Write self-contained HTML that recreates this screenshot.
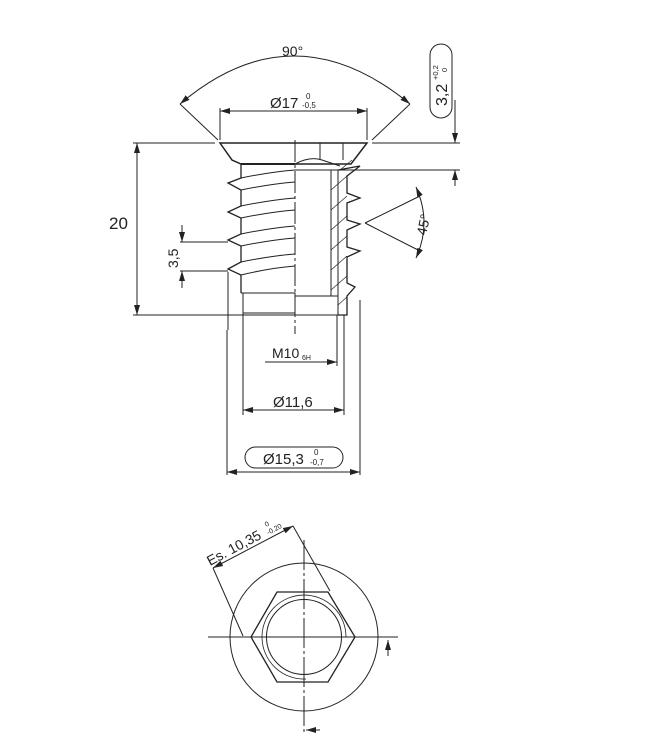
<!DOCTYPE html>
<html><head><meta charset="utf-8"><style>
html,body{margin:0;padding:0;background:#fff}
svg{display:block}
text{font-family:"Liberation Sans",sans-serif;fill:#222}
</style></head><body>
<svg width="651" height="743" viewBox="0 0 651 743" xmlns="http://www.w3.org/2000/svg">
<defs>
<marker id="a" viewBox="0 0 10 6" refX="10" refY="3" markerWidth="10" markerHeight="6" orient="auto-start-reverse" markerUnits="userSpaceOnUse"><path d="M0,0L10,3L0,6z" fill="#222"/></marker>
</defs>
<g stroke="#222" fill="none" stroke-width="1">
<path d="M180,104 Q293,8 410,104" marker-start="url(#a)" marker-end="url(#a)"/>
<line x1="180" y1="104" x2="218" y2="140"/>
<line x1="410" y1="104" x2="372" y2="140"/>
<line x1="220" y1="108" x2="220" y2="140"/>
<line x1="367" y1="108" x2="367" y2="140"/>
<line x1="220" y1="111" x2="367" y2="111" marker-start="url(#a)" marker-end="url(#a)"/>
<line x1="133" y1="143" x2="215" y2="143"/>
<line x1="133" y1="315" x2="243" y2="315"/>
<line x1="137" y1="143" x2="137" y2="315" marker-start="url(#a)" marker-end="url(#a)"/>
<line x1="372" y1="143" x2="460" y2="143"/>
<line x1="350" y1="170" x2="460" y2="170"/>
<line x1="455" y1="100" x2="455" y2="143" marker-end="url(#a)"/>
<line x1="455" y1="186" x2="455" y2="170" marker-end="url(#a)"/>
<rect x="430" y="44" width="22" height="74" rx="11"/>
<path d="M220,143 L367,143 L351,164 L241,164 L232,160 Z" stroke-width="1.5"/>
<line x1="241" y1="164" x2="295" y2="164" stroke-width="2"/>
<path d="M295,164 Q310,156 322,160 L340,166" />
<line x1="320" y1="143" x2="320" y2="159"/>
<line x1="343" y1="143" x2="343" y2="160"/>
<line x1="295" y1="170" x2="350" y2="170"/>
<path d="M241,164 L241,178 L228,183 L241,190 L241,206 L228,212 L241,218 L241,234 L228,240 L241,246 L241,262 L228,269 L241,275 L241,293" stroke-width="1.3"/>
<path d="M241,178 Q270,172 295,170 M241,190 Q270,184 295,182"/>
<path d="M241,206 Q270,200 295,198 M241,218 Q270,212 295,210"/>
<path d="M241,234 Q270,228 295,226 M241,246 Q270,240 295,238"/>
<path d="M241,262 Q270,256 295,254 M241,275 Q270,268 295,266"/>
<line x1="228" y1="272" x2="228" y2="330"/>
<line x1="241" y1="293" x2="295" y2="293"/>
<rect x="243" y="293" width="52" height="22"/>
<line x1="243" y1="313" x2="295" y2="313"/>
<path d="M295,296 L338,296 L338,315 L295,315"/>
<line x1="331" y1="170" x2="331" y2="296"/>
<line x1="338" y1="170" x2="338" y2="296"/>
<path d="M338,170 L360,166 L347,176 L347,193 L360,198 L347,203 L347,220 L360,224 L347,230 L347,247 L360,251 L347,257 L347,283 L355,287 L347,296 L347,315 L338,315" stroke-width="1.3"/>
<g stroke-width="0.7">
<line x1="331" y1="190" x2="347" y2="176"/><line x1="331" y1="210" x2="347" y2="196"/>
<line x1="331" y1="230" x2="347" y2="216"/><line x1="331" y1="250" x2="347" y2="236"/>
<line x1="331" y1="270" x2="347" y2="256"/><line x1="331" y1="290" x2="347" y2="276"/>
<line x1="338" y1="305" x2="347" y2="297"/><line x1="340" y1="170" x2="352" y2="160"/>
</g>
<line x1="365" y1="223" x2="420" y2="196"/>
<line x1="365" y1="223" x2="420" y2="251"/>
<path d="M416,187 Q432,223 416,258" marker-start="url(#a)" marker-end="url(#a)"/>
<line x1="180" y1="242" x2="228" y2="242"/>
<line x1="180" y1="271" x2="228" y2="271"/>
<line x1="182" y1="225" x2="182" y2="242" marker-end="url(#a)"/>
<line x1="182" y1="288" x2="182" y2="271" marker-end="url(#a)"/>
<line x1="295" y1="140" x2="295" y2="334" stroke-dasharray="22,3,3,3"/>
<line x1="243" y1="315" x2="243" y2="415"/>
<line x1="344" y1="315" x2="344" y2="415"/>
<line x1="360" y1="300" x2="360" y2="475"/>
<line x1="227" y1="330" x2="227" y2="475"/>
<line x1="337" y1="315" x2="337" y2="366"/>
<line x1="265" y1="362" x2="337" y2="362" marker-end="url(#a)"/>
<line x1="243" y1="410" x2="344" y2="410" marker-start="url(#a)" marker-end="url(#a)"/>
<line x1="227" y1="472" x2="360" y2="472" marker-start="url(#a)" marker-end="url(#a)"/>
<rect x="245" y="447" width="98" height="21" rx="10.5"/>
<circle cx="304" cy="637" r="74"/>
<polygon points="251,637 277,592 328,592 355,637 328,682 277,682" stroke-width="1.3"/>
<circle cx="304" cy="637" r="37.5"/>
<path d="M346,637 A42,42 0 1 0 306,679" stroke-width="0.8"/>
<line x1="208" y1="637" x2="398" y2="637"/>
<line x1="304" y1="540" x2="304" y2="735" stroke-dasharray="30,3,3,3"/>
<line x1="388" y1="656" x2="388" y2="640" marker-end="url(#a)"/>
<line x1="320" y1="730" x2="306" y2="730" marker-end="url(#a)"/>
<line x1="243" y1="636" x2="213" y2="568"/>
<line x1="330" y1="591" x2="293" y2="526"/>
<line x1="213" y1="568" x2="293" y2="526" marker-start="url(#a)" marker-end="url(#a)"/>
</g>
<text x="282" y="56" font-size="14">90°</text>
<text x="270" y="108" font-size="15">Ø17</text>
<text x="306" y="99" font-size="8">0</text>
<text x="302" y="108" font-size="8">-0,5</text>
<text x="109" y="229" font-size="17">20</text>
<text transform="translate(447,106) rotate(-90)" font-size="16">3,2</text>
<text transform="translate(438,80) rotate(-90)" font-size="7.5">+0,2</text>
<text transform="translate(447,72) rotate(-90)" font-size="7.5">0</text>
<text transform="translate(178,268) rotate(-90)" font-size="14">3,5</text>
<text transform="translate(426,236) rotate(-78)" font-size="14">45°</text>
<text x="272" y="358" font-size="14">M10</text>
<text x="302" y="360" font-size="7">6H</text>
<text x="273" y="407" font-size="15">Ø11,6</text>
<text x="263" y="464" font-size="15">Ø15,3</text>
<text x="314" y="455" font-size="8">0</text>
<text x="310" y="465" font-size="8">-0,7</text>
<g transform="translate(210,566) rotate(-28)">
<text x="0" y="0" font-size="14">Es. 10,35</text>
<text x="68" y="-8" font-size="7">0</text>
<text x="66" y="0" font-size="7">-0.20</text>
</g>
</svg>
</body></html>
